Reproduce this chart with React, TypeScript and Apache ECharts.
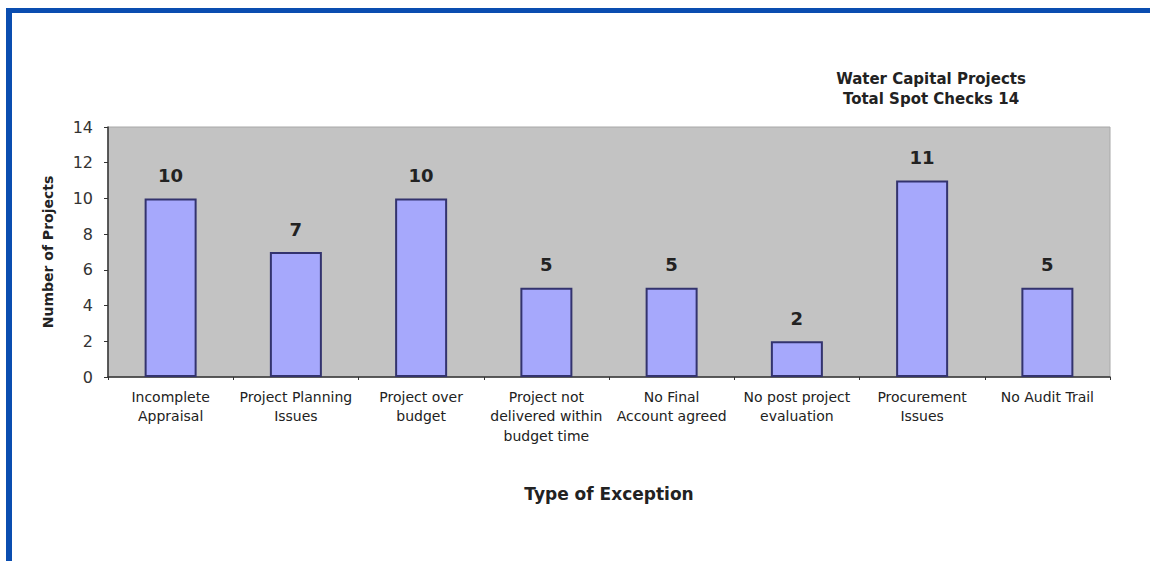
import React, { useEffect, useRef } from "react";
import * as echarts from "echarts";

const categories = [
  "Incomplete\nAppraisal",
  "Project Planning\nIssues",
  "Project over\nbudget",
  "Project not\ndelivered within\nbudget time",
  "No Final\nAccount agreed",
  "No post project\nevaluation",
  "Procurement\nIssues",
  "No Audit Trail",
];
const values = [10, 7, 10, 5, 5, 2, 11, 5];
const titleLines = ["Water Capital Projects", "Total Spot Checks 14"];
const yAxisName = "Number of Projects";
const xAxisName = "Type of Exception";

const FONT = "'DejaVu Sans', Verdana, sans-serif";

export default function App() {
  const ref = useRef<HTMLDivElement>(null);
  useEffect(() => {
    if (!ref.current) return;
    const chart = echarts.init(ref.current, undefined, { renderer: "svg" });
    chart.setOption({
      animation: false,
      backgroundColor: "#ffffff",
      textStyle: { fontFamily: FONT },
      title: {
        text: titleLines.join("\n"),
        left: 926,
        top: 64,
        textAlign: "center",
        textStyle: {
          fontFamily: FONT,
          fontSize: 15,
          fontWeight: "bold",
          color: "#222",
          lineHeight: 20,
          align: "center",
        },
      },
      graphic: [
        { type: "rect", shape: { x: 6, y: 8, width: 1144, height: 5 }, style: { fill: "#0a4db0" } },
        { type: "rect", shape: { x: 6, y: 8, width: 6, height: 553 }, style: { fill: "#0a4db0" } },
      ],
      grid: {
        left: 108,
        top: 127,
        width: 1002,
        height: 250,
        show: true,
        backgroundColor: "#c3c3c3",
        borderColor: "#a8a8a8",
        borderWidth: 1,
      },
      xAxis: {
        type: "category",
        data: categories,
        boundaryGap: true,
        name: xAxisName,
        nameLocation: "middle",
        nameGap: 108,
        nameTextStyle: { fontFamily: FONT, fontSize: 17, fontWeight: "bold", color: "#222" },
        axisLine: { show: true, lineStyle: { color: "#333", width: 1.5 } },
        axisTick: { show: true, alignWithLabel: false, length: 3, lineStyle: { color: "#333" } },
        axisLabel: {
          interval: 0,
          fontFamily: FONT,
          fontSize: 14,
          lineHeight: 19.5,
          color: "#222",
          margin: 10,
        },
        splitLine: { show: false },
      },
      yAxis: {
        type: "value",
        min: 0,
        max: 14,
        interval: 2,
        name: yAxisName,
        nameLocation: "middle",
        nameGap: 53,
        nameRotate: 90,
        nameTextStyle: { fontFamily: FONT, fontSize: 14, fontWeight: "bold", color: "#222" },
        axisLine: { show: true, lineStyle: { color: "#333", width: 1.5 } },
        axisTick: { show: true, length: 4, lineStyle: { color: "#333" } },
        axisLabel: { fontFamily: FONT, fontSize: 16, color: "#333", margin: 15 },
        splitLine: { show: false },
      },
      series: [
        {
          type: "bar",
          data: values,
          barWidth: 52,
          itemStyle: { color: "#a6a8fc", borderColor: "#33336e", borderWidth: 2 },
          label: {
            show: true,
            position: "top",
            distance: 14,
            fontFamily: FONT,
            fontSize: 18,
            fontWeight: "bold",
            color: "#222",
          },
        },
      ],
    });
    return () => chart.dispose();
  }, []);
  return (
    <div
      ref={ref}
      style={{ position: "fixed", left: 0, top: 0, width: 1150, height: 561 }}
    />
  );
}
